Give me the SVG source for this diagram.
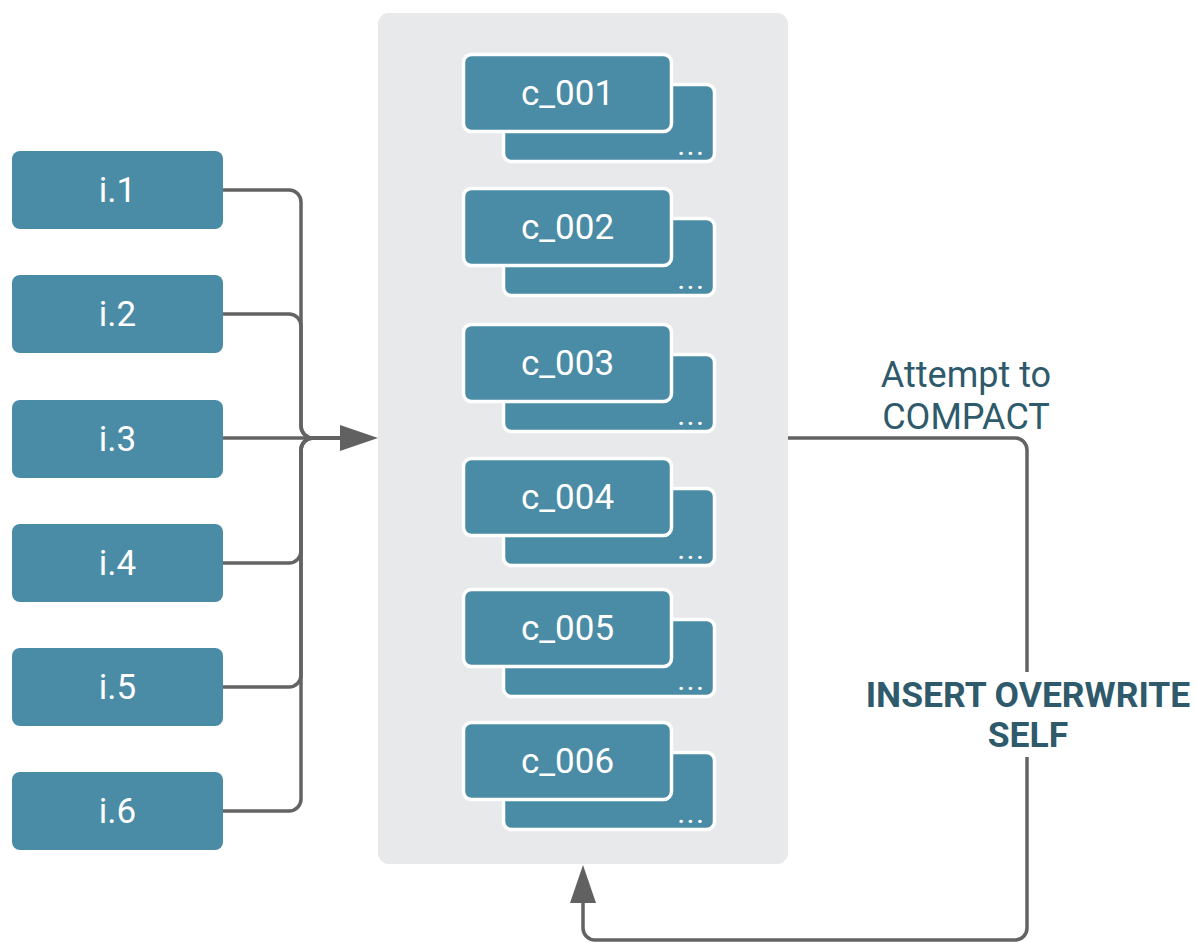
<svg xmlns="http://www.w3.org/2000/svg" width="1196" height="943" viewBox="0 0 1196 943">
<style>
.node{fill:#4a8ba6;}
.card{fill:#4a8ba6;stroke:#ffffff;stroke-width:3.5;}
.lbl{font-family:Roboto,"Liberation Sans",sans-serif;font-weight:400;font-size:35px;fill:#ffffff;text-anchor:middle;}
.dots{font-family:Roboto,"Liberation Sans",sans-serif;font-weight:700;font-size:22px;fill:#ffffff;text-anchor:middle;letter-spacing:3px;}
.conn{fill:none;stroke:#636363;stroke-width:3.5;}
.note{font-family:Roboto,"Liberation Sans",sans-serif;font-size:36px;fill:#2e5a6c;text-anchor:middle;}
.bold{font-weight:700;font-size:35.5px;}
</style>
<defs>
<marker id="arr" markerWidth="38" markerHeight="26" refX="5" refY="13" orient="auto" markerUnits="userSpaceOnUse">
<path d="M0,0 L38,13 L0,26 z" fill="#616161"/>
</marker>
</defs>
<rect width="1196" height="943" fill="#ffffff"/>
<g id="container">
<rect x="378" y="13" width="410" height="851" rx="11" fill="#e8e9eb"/>
</g>
<g id="connectors">
<path class="conn" d="M223,190 H289 A12,12 0 0 1 301,202 V426 A12,12 0 0 0 313,438 H340"/>
<path class="conn" d="M223,314 H289 A12,12 0 0 1 301,326 V426 A12,12 0 0 0 313,438 H340"/>
<path class="conn" d="M223,438 H345" marker-end="url(#arr)"/>
<path class="conn" d="M223,563 H289 A12,12 0 0 0 301,551 V450 A12,12 0 0 1 313,438 H340"/>
<path class="conn" d="M223,687 H289 A12,12 0 0 0 301,675 V450 A12,12 0 0 1 313,438 H340"/>
<path class="conn" d="M223,811 H289 A12,12 0 0 0 301,799 V450 A12,12 0 0 1 313,438 H340"/>
<path class="conn" d="M788,438 H1015 A12,12 0 0 1 1027,450 V928 A12,12 0 0 1 1015,940 H595 A12,12 0 0 1 583,928 V898" marker-end="url(#arr)"/>
</g>
<g id="i1"><rect class="node" x="12" y="151" width="211" height="78" rx="8"/><text class="lbl" x="117.5" y="202">i.1</text></g>
<g id="i2"><rect class="node" x="12" y="275" width="211" height="78" rx="8"/><text class="lbl" x="117.5" y="326">i.2</text></g>
<g id="i3"><rect class="node" x="12" y="400" width="211" height="78" rx="8"/><text class="lbl" x="117.5" y="451">i.3</text></g>
<g id="i4"><rect class="node" x="12" y="524" width="211" height="78" rx="8"/><text class="lbl" x="117.5" y="575">i.4</text></g>
<g id="i5"><rect class="node" x="12" y="648" width="211" height="78" rx="8"/><text class="lbl" x="117.5" y="699">i.5</text></g>
<g id="i6"><rect class="node" x="12" y="772" width="211" height="78" rx="8"/><text class="lbl" x="117.5" y="823">i.6</text></g>

<g id="c001">
<rect class="card" x="503.5" y="84.5" width="211" height="77" rx="8"/><text class="dots" x="692" y="155">...</text>
<rect class="card" x="463.5" y="54.5" width="208" height="77" rx="8"/><text class="lbl" x="567.5" y="105">c_001</text>
</g>
<g id="c002">
<rect class="card" x="503.5" y="218.5" width="211" height="77" rx="8"/><text class="dots" x="692" y="289">...</text>
<rect class="card" x="463.5" y="188.5" width="208" height="77" rx="8"/><text class="lbl" x="567.5" y="239">c_002</text>
</g>
<g id="c003">
<rect class="card" x="503.5" y="354.5" width="211" height="77" rx="8"/><text class="dots" x="692" y="425">...</text>
<rect class="card" x="463.5" y="324.5" width="208" height="77" rx="8"/><text class="lbl" x="567.5" y="375">c_003</text>
</g>
<g id="c004">
<rect class="card" x="503.5" y="488.5" width="211" height="77" rx="8"/><text class="dots" x="692" y="559">...</text>
<rect class="card" x="463.5" y="458.5" width="208" height="77" rx="8"/><text class="lbl" x="567.5" y="509">c_004</text>
</g>
<g id="c005">
<rect class="card" x="503.5" y="619.5" width="211" height="77" rx="8"/><text class="dots" x="692" y="690">...</text>
<rect class="card" x="463.5" y="589.5" width="208" height="77" rx="8"/><text class="lbl" x="567.5" y="640">c_005</text>
</g>
<g id="c006">
<rect class="card" x="503.5" y="752.5" width="211" height="77" rx="8"/><text class="dots" x="692" y="823">...</text>
<rect class="card" x="463.5" y="722.5" width="208" height="77" rx="8"/><text class="lbl" x="567.5" y="773">c_006</text>
</g>

<g id="label-compact">
<text class="note" x="966" y="387">Attempt to</text>
<text class="note" x="966" y="429">COMPACT</text>
</g>
<g id="label-insert">
<rect x="858" y="672" width="338" height="85" fill="#ffffff"/>
<text class="note bold" x="1028" y="707">INSERT OVERWRITE</text>
<text class="note bold" x="1028" y="747">SELF</text>
</g>
</svg>
